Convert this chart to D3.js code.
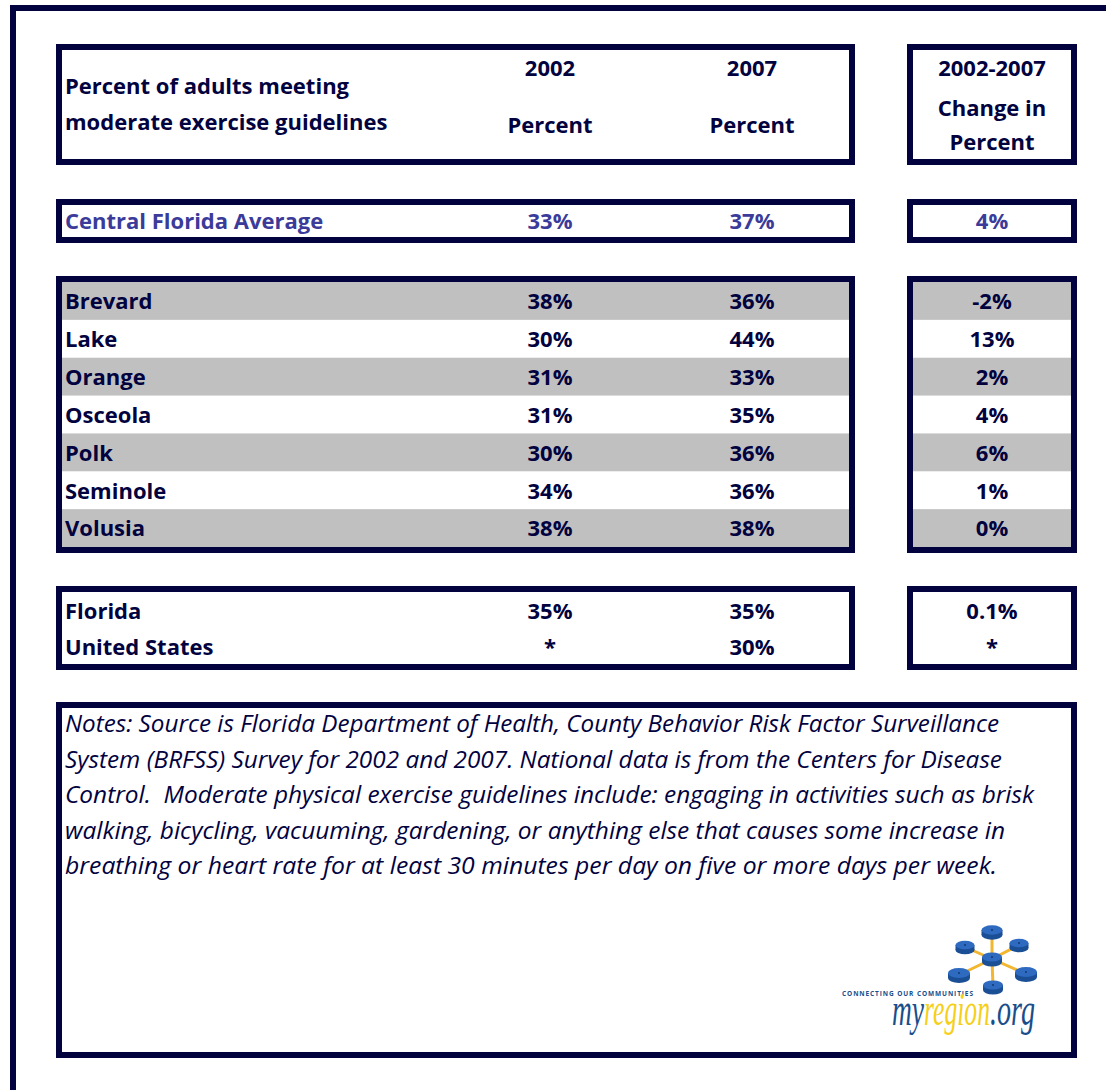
<!doctype html>
<html lang="en">
<head>
<meta charset="utf-8">
<title>Percent of adults meeting moderate exercise guidelines</title>
<script src="https://d3js.org/d3.v7.min.js"></script>
<style>
  body { margin: 0; background: #fff; }
</style>
</head>
<body>
<div id="chart"></div>
<script>
// table data
var counties = ["Brevard", "Lake", "Orange", "Osceola", "Polk", "Seminole", "Volusia"];
var pct2002 = ["38%", "30%", "31%", "31%", "30%", "34%", "38%"];
var pct2007 = ["36%", "44%", "33%", "35%", "36%", "36%", "38%"];
var change = ["-2%", "13%", "2%", "4%", "6%", "1%", "0%"];

var avgLabel = "Central Florida Average";
var avg2002 = "33%", avg2007 = "37%", avgChange = "4%";

var refAreas = ["Florida", "United States"];
var ref2002 = ["35%", "*"];
var ref2007 = ["35%", "30%"];
var refChange = ["0.1%", "*"];

var noteLines = [
  "Notes: Source is Florida Department of Health, County Behavior Risk Factor Surveillance",
  "System (BRFSS) Survey for 2002 and 2007. National data is from the Centers for Disease",
  "Control.  Moderate physical exercise guidelines include: engaging in activities such as brisk",
  "walking, bicycling, vacuuming, gardening, or anything else that causes some increase in",
  "breathing or heart rate for at least 30 minutes per day on five or more days per week."
];
// rendered width of each note line (layout only)
var noteWidths = [934, 937, 969, 940, 932];

var navy = "#02023f", slate = "#3b3b9a", grey = "#c0c0c0";
var font = "'Open Sans', Lato, sans-serif";
var W = 1106, H = 1090;

var svg = d3.select("#chart").append("svg")
    .attr("width", W).attr("height", H);

// column positions
var col = d3.scaleOrdinal()
    .domain(["label", "y2002", "y2007", "chg"])
    .range([65, 550, 752, 992]);

// outer frame (runs off the page right and bottom)
svg.append("path")
    .attr("d", "M13," + H + "V8H" + W)
    .attr("fill", "none").attr("stroke", navy).attr("stroke-width", 6);

function box(x0, y0, x1, y1) {
  svg.append("rect")
      .attr("x", x0 + 3).attr("y", y0 + 3)
      .attr("width", x1 - x0 - 6).attr("height", y1 - y0 - 6)
      .attr("fill", "none").attr("stroke", navy).attr("stroke-width", 6);
}

function cell(x, y, txt, opt) {
  opt = opt || {};
  svg.append("text")
      .attr("x", x).attr("y", y)
      .attr("dy", "0.36em")
      .attr("text-anchor", opt.anchor || "middle")
      .style("font-family", font)
      .style("font-size", "22px")
      .style("font-weight", "bold")
      .attr("fill", opt.color || navy)
      .text(txt);
}

// header
cell(col("label"), 86, "Percent of adults meeting", {anchor: "start"});
cell(col("label"), 122, "moderate exercise guidelines", {anchor: "start"});
cell(col("y2002"), 68, "2002");
cell(col("y2002"), 125, "Percent");
cell(col("y2007"), 68, "2007");
cell(col("y2007"), 125, "Percent");
cell(col("chg"), 68, "2002-2007");
cell(col("chg"), 108, "Change in");
cell(col("chg"), 142, "Percent");

// central florida average
cell(col("label"), 221, avgLabel, {anchor: "start", color: slate});
cell(col("y2002"), 221, avg2002, {color: slate});
cell(col("y2007"), 221, avg2007, {color: slate});
cell(col("chg"), 221, avgChange, {color: slate});

// counties
var yc = d3.scaleBand().domain(counties).range([282, 547]);
counties.forEach(function(c, i) {
  if (i % 2 === 0) {
    svg.append("rect").attr("x", 62).attr("y", yc(c))
        .attr("width", 787).attr("height", yc.bandwidth()).attr("fill", grey);
    svg.append("rect").attr("x", 913).attr("y", yc(c))
        .attr("width", 158).attr("height", yc.bandwidth()).attr("fill", grey);
  }
  var y = yc(c) + yc.bandwidth() / 2 + 0.5;
  cell(col("label"), y, c, {anchor: "start"});
  cell(col("y2002"), y, pct2002[i]);
  cell(col("y2007"), y, pct2007[i]);
  cell(col("chg"), y, change[i]);
});

// florida / us
var yr = d3.scaleBand().domain(refAreas).range([592, 664]);
refAreas.forEach(function(r, i) {
  var y = yr(r) + yr.bandwidth() / 2 + 1;
  cell(col("label"), y, r, {anchor: "start"});
  cell(col("y2002"), y, ref2002[i]);
  cell(col("y2007"), y, ref2007[i]);
  cell(col("chg"), y, refChange[i]);
});

// boxes
box(56, 44, 855, 165);
box(907, 44, 1077, 165);
box(56, 199, 855, 243);
box(907, 199, 1077, 243);
box(56, 276, 855, 553);
box(907, 276, 1077, 553);
box(56, 586, 855, 670);
box(907, 586, 1077, 670);
box(56, 702, 1077, 1058);

// notes
svg.append("g").selectAll("text").data(noteLines).enter().append("text")
    .attr("x", 65)
    .attr("y", function(d, i) { return 732 + i * 35.5; })
    .attr("textLength", function(d, i) { return noteWidths[i]; })
    .attr("lengthAdjust", "spacingAndGlyphs")
    .style("font-family", font)
    .style("font-size", "23px")
    .style("font-style", "italic")
    .style("white-space", "pre")
    .attr("fill", navy)
    .text(function(d) { return d; });

// logo
var logo = svg.append("g");
var hub = [992, 957];
var spokes = [[992, 930, 10.5], [965, 945, 9.5], [1019, 943, 9.5], [959, 973, 11], [1026, 972, 11], [993, 985, 10]];
spokes.forEach(function(s) {
  logo.append("line").attr("x1", hub[0]).attr("y1", hub[1] + 2).attr("x2", s[0]).attr("y2", s[1] + 2)
      .attr("stroke", "#f2b630").attr("stroke-width", 3);
});
spokes.concat([[hub[0], hub[1], 10]]).forEach(function(s) {
  var t = 5;
  logo.append("ellipse").attr("cx", s[0]).attr("cy", s[1] + t).attr("rx", s[2]).attr("ry", s[2] * 0.45)
      .attr("fill", "#1a4f96");
  logo.append("rect").attr("x", s[0] - s[2]).attr("y", s[1]).attr("width", 2 * s[2]).attr("height", t)
      .attr("fill", "#1a4f96");
  logo.append("ellipse").attr("cx", s[0]).attr("cy", s[1]).attr("rx", s[2]).attr("ry", s[2] * 0.45)
      .attr("fill", "#2d6ac0");
  logo.append("circle").attr("cx", s[0]).attr("cy", s[1]).attr("r", 1).attr("fill", "#123a70");
});
logo.append("text").attr("x", 842).attr("y", 996)
    .style("font-family", font).style("font-size", "6.5px").style("font-weight", "bold")
    .attr("textLength", 131).attr("lengthAdjust", "spacing")
    .attr("fill", "#1a4e8a").text("CONNECTING OUR COMMUNITIES");
var brandParts = [["my", 892, 32, "#1a4e8a"], ["region", 924, 66, "#f5cf1b"], [".org", 990, 45, "#1a4e8a"]];
brandParts.forEach(function(p) {
  logo.append("text").attr("x", p[1]).attr("y", 1025)
      .attr("textLength", p[2]).attr("lengthAdjust", "spacingAndGlyphs")
      .style("font-family", "'Liberation Serif', 'DejaVu Serif', serif")
      .style("font-size", "46px").style("font-style", "italic")
      .attr("fill", p[3]).text(p[0]);
});
</script>
</body>
</html>
